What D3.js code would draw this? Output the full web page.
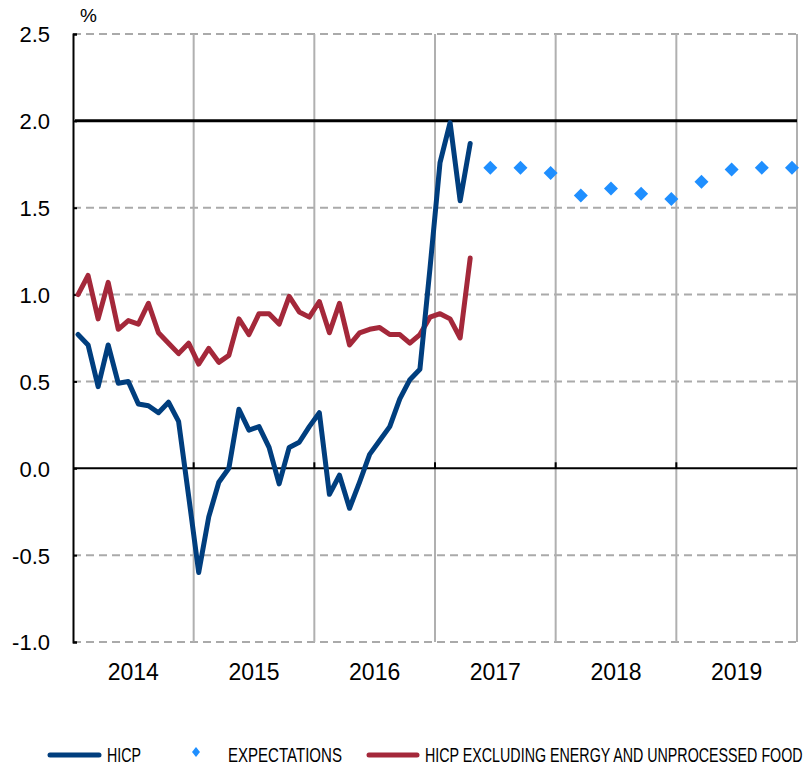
<!DOCTYPE html>
<html>
<head>
<meta charset="utf-8">
<script src="https://cdn.jsdelivr.net/npm/d3@7"></script>
<style>
  html, body { margin: 0; padding: 0; background: #fff; }
  svg { display: block; font-family: "Liberation Sans", Arial, sans-serif; }
</style>
</head>
<body>
<svg id="chart" width="811" height="768"></svg>
<script>
// ---- data ----
const years = ["2014", "2015", "2016", "2017", "2018", "2019"];
const yTicks = [-1.0, -0.5, 0.0, 0.5, 1.0, 1.5, 2.0, 2.5];
const seriesStart = "2014-01";
// HICP, monthly from Jan 2014
const hicpValues = [
  0.77, 0.71, 0.47, 0.71, 0.49, 0.50, 0.37, 0.36, 0.32, 0.38, 0.27, -0.16,
  -0.60, -0.28, -0.08, 0.00, 0.34, 0.22, 0.24, 0.12, -0.09, 0.12, 0.15, 0.24,
  0.32, -0.15, -0.04, -0.23, -0.08, 0.08, 0.16, 0.24, 0.40, 0.51, 0.57, 1.15,
  1.76, 1.99, 1.54, 1.87
];
// HICP excluding energy and unprocessed food, monthly from Jan 2014
const coreValues = [
  1.00, 1.11, 0.86, 1.07, 0.80, 0.85, 0.83, 0.95, 0.78, 0.72, 0.66, 0.72,
  0.60, 0.69, 0.61, 0.65, 0.86, 0.77, 0.89, 0.89, 0.83, 0.99, 0.90, 0.87,
  0.96, 0.78, 0.95, 0.71, 0.78, 0.80, 0.81, 0.77, 0.77, 0.72, 0.77, 0.87,
  0.89, 0.86, 0.75, 1.21
];
const expectationMonths = ["2017-06", "2017-09", "2017-12", "2018-03", "2018-06", "2018-09",
                           "2018-12", "2019-03", "2019-06", "2019-09", "2019-12"];
const expectationValues = [1.73, 1.73, 1.70, 1.57, 1.61, 1.58, 1.55, 1.65, 1.72, 1.73, 1.73];
const legendLabels = ["HICP", "EXPECTATIONS", "HICP EXCLUDING ENERGY AND UNPROCESSED FOOD"];

// ---- helpers ----
const allMonths = [];
years.forEach(y => { for (let m = 1; m <= 12; m++) allMonths.push(y + "-" + String(m).padStart(2, "0")); });
const startIdx = allMonths.indexOf(seriesStart);
const hicp = hicpValues.map((v, i) => ({ m: allMonths[startIdx + i], v }));
const core = coreValues.map((v, i) => ({ m: allMonths[startIdx + i], v }));
const expectations = expectationMonths.map((m, i) => ({ m, v: expectationValues[i] }));

const colors = { hicp: "#003e7e", core: "#a4283a", exp: "#1f8fff" };

const svg = d3.select("#chart");
const L = 73, R = 797, T = 34, B = 642;

const x = d3.scaleBand().domain(allMonths).range([L, R]).padding(0);
const xc = m => x(m) + x.bandwidth() / 2;
const y = d3.scaleLinear().domain([-1, 2.5]).range([B, T]);
const yearScale = d3.scaleBand().domain(years).range([L, R]);

// horizontal dashed gridlines
svg.append("g").selectAll("line")
  .data(yTicks.filter(t => t !== 0 && t !== 2))
  .join("line")
  .attr("x1", L).attr("x2", R)
  .attr("y1", d => y(d)).attr("y2", d => y(d))
  .attr("stroke", "#aaaaaa").attr("stroke-width", 2)
  .attr("stroke-dasharray", "8,5");

// vertical year gridlines
svg.append("g").selectAll("line")
  .data(years)
  .join("line")
  .attr("x1", d => yearScale(d) + yearScale.bandwidth())
  .attr("x2", d => yearScale(d) + yearScale.bandwidth())
  .attr("y1", T).attr("y2", B)
  .attr("stroke", "#b0b0b0").attr("stroke-width", 2);

// zero line with upward ticks
svg.append("line")
  .attr("x1", L).attr("x2", R).attr("y1", y(0)).attr("y2", y(0))
  .attr("stroke", "#000").attr("stroke-width", 2);
svg.append("g").selectAll("line")
  .data(years.slice(0, -1))
  .join("line")
  .attr("x1", d => yearScale(d) + yearScale.bandwidth())
  .attr("x2", d => yearScale(d) + yearScale.bandwidth())
  .attr("y1", y(0)).attr("y2", y(0) - 6)
  .attr("stroke", "#000").attr("stroke-width", 2);

// 2.0 target line
svg.append("line")
  .attr("x1", L + 2).attr("x2", R).attr("y1", y(2)).attr("y2", y(2))
  .attr("stroke", "#000").attr("stroke-width", 3);

// y axis
const fmt = d3.format(".1f");
const yAxis = d3.axisLeft(y).tickValues(yTicks).tickSize(-4).tickPadding(23)
  .tickFormat(d => fmt(d).replace("\u2212", "-"));
const gy = svg.append("g").attr("transform", `translate(${L},0)`).call(yAxis);
gy.select(".domain").attr("stroke", "#000").attr("stroke-width", 2);
gy.selectAll(".tick line").attr("stroke", "#000").attr("stroke-width", 2);
gy.selectAll(".tick text")
  .attr("font-size", 22).attr("fill", "#000")
  .attr("font-family", "'Liberation Sans', Arial, sans-serif")
  .attr("dy", "0.36em");

// "%" label
svg.append("text").attr("x", 80).attr("y", 22)
  .attr("font-size", 19).text("%");

// year labels
svg.append("g").selectAll("text")
  .data(years)
  .join("text")
  .attr("x", d => yearScale(d) + yearScale.bandwidth() / 2)
  .attr("y", 680)
  .attr("text-anchor", "middle")
  .attr("font-size", 23)
  .text(d => d);

// lines
const line = d3.line().x(d => xc(d.m)).y(d => y(d.v));
svg.append("path").datum(core)
  .attr("d", line).attr("fill", "none")
  .attr("stroke", colors.core).attr("stroke-width", 5)
  .attr("stroke-linejoin", "round").attr("stroke-linecap", "round");
svg.append("path").datum(hicp)
  .attr("d", line).attr("fill", "none")
  .attr("stroke", colors.hicp).attr("stroke-width", 5)
  .attr("stroke-linejoin", "round").attr("stroke-linecap", "round");

// expectation diamonds
const diamond = (cx, cy, w, h) => `M${cx},${cy - h}L${cx + w},${cy}L${cx},${cy + h}L${cx - w},${cy}Z`;
svg.append("g").selectAll("path")
  .data(expectations)
  .join("path")
  .attr("d", d => diamond(xc(d.m), y(d.v), 7, 7))
  .attr("fill", colors.exp);

// legend (condensed text via horizontal scale)
const lg = svg.append("g");
function legendText(label, lx, ly, targetW) {
  const t = lg.append("text").attr("x", 0).attr("y", 0).attr("font-size", 20).text(label);
  const w = t.node().getComputedTextLength();
  t.attr("transform", `translate(${lx},${ly}) scale(${targetW / w},1)`);
}
lg.append("line").attr("x1", 50).attr("x2", 99).attr("y1", 755).attr("y2", 755)
  .attr("stroke", colors.hicp).attr("stroke-width", 5).attr("stroke-linecap", "round");
legendText(legendLabels[0], 107, 762, 34);
lg.append("path").attr("d", diamond(196, 752, 4, 5)).attr("fill", colors.exp);
legendText(legendLabels[1], 228, 762, 114);
lg.append("line").attr("x1", 369).attr("x2", 417).attr("y1", 755).attr("y2", 755)
  .attr("stroke", colors.core).attr("stroke-width", 5).attr("stroke-linecap", "round");
legendText(legendLabels[2], 425, 762, 378);
</script>
</body>
</html>
